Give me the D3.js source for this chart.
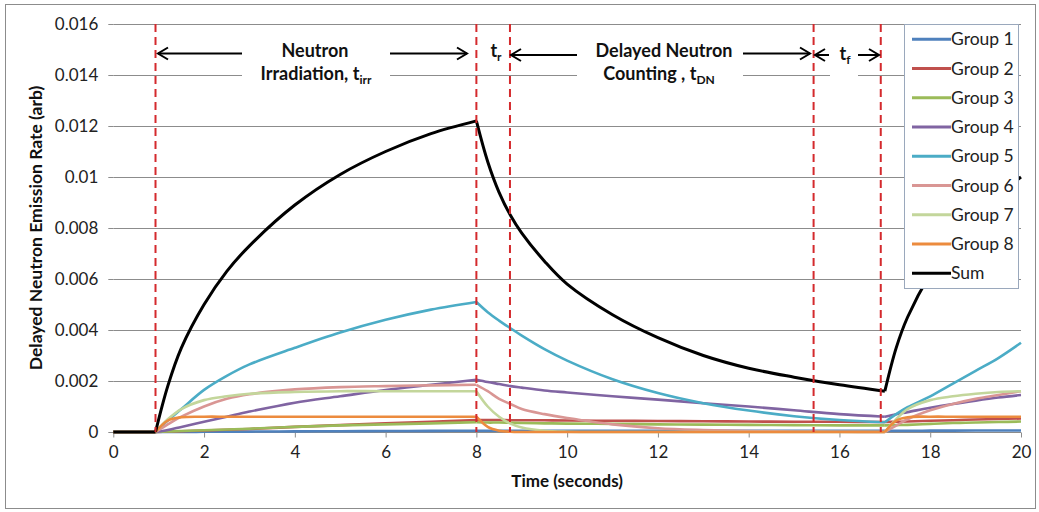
<!DOCTYPE html>
<html>
<head>
<meta charset="utf-8">
<script src="https://cdn.jsdelivr.net/npm/d3@7"></script>
<style>
  body { margin: 0; background: #fff; }
  text { font-family: Lato, "Open Sans", sans-serif; }
</style>
</head>
<body>
<div id="chart"></div>
<script>

// time samples (seconds) shared by all series
const times = [0, 0.93, 1.2, 1.5, 2, 2.5, 3, 4, 5, 6, 7, 8,
  8.25, 8.5, 8.75, 9, 9.5, 10, 11, 12, 13, 14, 15, 16, 17,
  17.25, 17.5, 18, 18.5, 19, 19.5, 20];

const group1 = [0, 0, 0.000002, 0.000004, 0.000008, 0.000012, 0.000016, 0.000024, 0.000031, 0.000038, 0.000044, 0.00005,
  0.00005, 0.00005, 0.00005, 0.00005, 0.00005, 0.00005, 0.00005, 0.00005, 0.00005, 0.00005, 0.00005, 0.00005, 0.00005,
  0.00005, 0.00005, 0.000052, 0.000054, 0.000056, 0.000058, 0.00006];
const group2 = [0, 0, 0.00002, 0.00003, 0.00006, 0.00009, 0.00012, 0.0002, 0.00027, 0.00034, 0.0004, 0.00047,
  0.00047, 0.00047, 0.00046, 0.00046, 0.00046, 0.00045, 0.00044, 0.00043, 0.00042, 0.00041, 0.0004, 0.0004, 0.00039,
  0.0004, 0.00041, 0.00044, 0.00046, 0.00049, 0.00051, 0.00053];
const group3 = [0, 0, 0.00002, 0.00004, 0.00007, 0.0001, 0.00013, 0.0002, 0.00026, 0.0003, 0.00034, 0.00038,
  0.00037, 0.00037, 0.00036, 0.00035, 0.00034, 0.00033, 0.00032, 0.0003, 0.00029, 0.00028, 0.00027, 0.00026, 0.00026,
  0.00027, 0.00028, 0.00032, 0.00035, 0.00037, 0.00039, 0.00041];
const group4 = [0, 0, 0.00008, 0.0002, 0.0004, 0.0006, 0.0008, 0.00115, 0.0014, 0.00165, 0.00185, 0.00205,
  0.00196, 0.00188, 0.0018, 0.00174, 0.00163, 0.00155, 0.0014, 0.00127, 0.00113, 0.001, 0.00085, 0.0007, 0.0006,
  0.0007, 0.00078, 0.00095, 0.0011, 0.00123, 0.00135, 0.00145];
const group5 = [0, 0, 0.00045, 0.0009, 0.00165, 0.0022, 0.00265, 0.0033, 0.0039, 0.0044, 0.0048, 0.0051,
  0.0047, 0.00437, 0.00407, 0.00378, 0.00325, 0.0028, 0.00207, 0.00153, 0.00113, 0.00084, 0.00062, 0.00047, 0.00038,
  0.0007, 0.00097, 0.0014, 0.0019, 0.0024, 0.0029, 0.0035];
const group6 = [0, 0, 0.0003, 0.0006, 0.001, 0.0013, 0.00148, 0.00167, 0.00176, 0.0018, 0.00183, 0.00185,
  0.0016, 0.0013, 0.0011, 0.0009, 0.0007, 0.00055, 0.0003, 0.00015, 0.00008, 0.00004, 0.00002, 0.00001, 0,
  0.00025, 0.0005, 0.00085, 0.0011, 0.0013, 0.00145, 0.0016];
const group7 = [0, 0, 0.0005, 0.0009, 0.00125, 0.0014, 0.0015, 0.00157, 0.0016, 0.0016, 0.0016, 0.0016,
  0.001, 0.0006, 0.00033, 0.00018, 0.00005, 0.00001, 0, 0, 0, 0, 0, 0, 0,
  0.0005, 0.0009, 0.00125, 0.0014, 0.0015, 0.00157, 0.0016];
const group8 = [0, 0, 0.00045, 0.00058, 0.0006, 0.0006, 0.0006, 0.0006, 0.0006, 0.0006, 0.0006, 0.0006,
  0.0002, 0.00005, 0.00001, 0, 0, 0, 0, 0, 0, 0, 0, 0, 0,
  0.00045, 0.00058, 0.0006, 0.0006, 0.0006, 0.0006, 0.0006];
const sum = [0, 0, 0.0018, 0.0033, 0.005, 0.0063, 0.0073, 0.0089, 0.0101, 0.011, 0.0117, 0.0122,
  0.0106, 0.0094, 0.0085, 0.0078, 0.0067, 0.0058, 0.0046, 0.0037, 0.003, 0.0025, 0.00215, 0.00185, 0.0016,
  0.0033, 0.0045, 0.0062, 0.0075, 0.0085, 0.0093, 0.01];

const seriesNames = ["Group 1", "Group 2", "Group 3", "Group 4", "Group 5", "Group 6", "Group 7", "Group 8", "Sum"];
const seriesValues = [group1, group2, group3, group4, group5, group6, group7, group8, sum];
const seriesColors = ["#4f81bd", "#c0504d", "#9bbb59", "#8064a2", "#4bacc6", "#d99694", "#c3d69b", "#ec8b3e", "#000000"];

// corners in the curves (start of irradiation, end, restart)
const phaseBreaks = [0.93, 8, 17];

// dashed markers
const markerTimes = [0.93, 8, 8.74, 15.43, 16.91];

const xTicks = [0, 2, 4, 6, 8, 10, 12, 14, 16, 18, 20];
const yTicks = [0, 0.002, 0.004, 0.006, 0.008, 0.01, 0.012, 0.014, 0.016];
const yTickLabels = ["0", "0.002", "0.004", "0.006", "0.008", "0.01", "0.012", "0.014", "0.016"];

const width = 1039, height = 512;

const svg = d3.select("#chart").append("svg")
  .attr("width", width)
  .attr("height", height);

// outer frame
svg.append("rect")
  .attr("x", 5.5).attr("y", 4.5)
  .attr("width", 1030).attr("height", 504)
  .attr("fill", "#fff")
  .attr("stroke", "#8c8c8c");

const x = d3.scaleLinear().domain([0, 20]).range([113.3, 1021]);
const y = d3.scaleLinear().domain([0, 0.016]).range([432, 24]);

// gridlines
svg.append("g")
  .selectAll("line")
  .data(yTicks)
  .join("line")
    .attr("x1", x(0)).attr("x2", x(20))
    .attr("y1", d => Math.round(y(d)) + 0.5)
    .attr("y2", d => Math.round(y(d)) + 0.5)
    .attr("stroke", "#8c8c8c");

// axes
const xAxis = svg.append("g")
  .attr("transform", `translate(0,${Math.round(y(0)) + 0.5})`)
  .call(d3.axisBottom(x).tickValues(xTicks).tickSize(5).tickPadding(8).tickFormat(d3.format("d")));
xAxis.select(".domain").remove();
xAxis.selectAll(".tick line").attr("stroke", "#8c8c8c");
xAxis.selectAll(".tick text")
  .attr("font-family", "Lato, sans-serif")
  .attr("font-size", 17)
  .attr("fill", "#222");

const yAxis = svg.append("g")
  .attr("transform", `translate(${x(0)},0)`)
  .call(d3.axisLeft(y).tickValues(yTicks).tickSize(5).tickPadding(10)
    .tickFormat((d, i) => yTickLabels[i]));
yAxis.select(".domain").remove();
yAxis.selectAll(".tick line").attr("stroke", "#8c8c8c");
yAxis.selectAll(".tick text")
  .attr("font-family", "Lato, sans-serif")
  .attr("font-size", 17)
  .attr("fill", "#222");

// white text boxes that hide the 0.014 gridline
const boxes = [[242, 390], [577, 743], [830, 858]];
svg.append("g")
  .selectAll("rect")
  .data(boxes)
  .join("rect")
    .attr("x", d => d[0])
    .attr("width", d => d[1] - d[0])
    .attr("y", 36).attr("height", 56)
    .attr("fill", "#fff");

// series lines, one path per phase so the corners stay sharp
const line = d3.line()
  .x(d => x(d[0]))
  .y(d => y(Math.max(0, d[1])))
  .curve(d3.curveCatmullRom.alpha(0.5));

const edges = [0].concat(phaseBreaks, [20]);

seriesValues.forEach((vals, si) => {
  const pts = times.map((t, i) => [t, vals[i]]);
  for (let k = 0; k < edges.length - 1; k++) {
    const seg = pts.filter(p => p[0] >= edges[k] && p[0] <= edges[k + 1]);
    svg.append("path")
      .datum(seg)
      .attr("d", line)
      .attr("fill", "none")
      .attr("stroke", seriesColors[si])
      .attr("stroke-width", si == 8 ? 3 : 2.6)
      .attr("stroke-linejoin", "round");
  }
});

// dashed red markers
svg.append("g")
  .selectAll("line")
  .data(markerTimes)
  .join("line")
    .attr("x1", d => x(d)).attr("x2", d => x(d))
    .attr("y1", y(0.016)).attr("y2", y(0))
    .attr("stroke", "#d42a2d")
    .attr("stroke-width", 2)
    .attr("stroke-dasharray", "8,5");

// arrows: [from, to, y]
const arrows = [[242, 158, 53.5], [390, 467, 53.5], [577, 511, 55], [743, 810, 53.5], [829, 815, 55], [858, 879, 55]];

const arrowG = svg.append("g")
  .attr("stroke", "#000")
  .attr("stroke-width", 2)
  .attr("fill", "none");

arrows.forEach(a => {
  const dir = a[1] > a[0] ? 1 : -1;
  arrowG.append("line")
    .attr("x1", a[0]).attr("x2", a[1])
    .attr("y1", a[2]).attr("y2", a[2]);
  arrowG.append("path")
    .attr("d", `M${a[1] - dir * 10},${a[2] - 6} L${a[1]},${a[2]} L${a[1] - dir * 10},${a[2] + 6}`);
});

// annotation text
const notes = svg.append("g")
  .attr("font-weight", "bold")
  .attr("font-size", 18)
  .attr("fill", "#111")
  .attr("text-anchor", "middle");

notes.append("text").attr("x", 315).attr("y", 57).text("Neutron");
const irr = notes.append("text").attr("x", 316).attr("y", 80);
irr.append("tspan").text("Irradiation, t");
irr.append("tspan").attr("font-size", 12).attr("dy", 4).text("irr");

const tr = notes.append("text").attr("x", 496).attr("y", 57);
tr.append("tspan").text("t");
tr.append("tspan").attr("font-size", 12).attr("dy", 4).text("r");

notes.append("text").attr("x", 664).attr("y", 57).text("Delayed Neutron");
const dn = notes.append("text").attr("x", 659).attr("y", 80);
dn.append("tspan").text("Counting , t");
dn.append("tspan").attr("font-size", 12).attr("dy", 4).text("DN");

const tf = notes.append("text").attr("x", 845).attr("y", 60);
tf.append("tspan").text("t");
tf.append("tspan").attr("font-size", 12).attr("dy", 4).text("f");

// axis titles
svg.append("text")
  .attr("transform", `translate(42,${(y(0) + y(0.016)) / 2}) rotate(-90)`)
  .attr("text-anchor", "middle")
  .attr("font-weight", "bold")
  .attr("font-size", 17.5)
  .attr("fill", "#111")
  .text("Delayed Neutron Emission Rate (arb)");

svg.append("text")
  .attr("x", (x(0) + x(20)) / 2)
  .attr("y", 487)
  .attr("text-anchor", "middle")
  .attr("font-weight", "bold")
  .attr("font-size", 17)
  .attr("fill", "#111")
  .text("Time (seconds)");

// legend
const legend = svg.append("g");
legend.append("rect")
  .attr("x", 904.5).attr("y", 24.5)
  .attr("width", 114).attr("height", 264)
  .attr("fill", "#fff")
  .attr("stroke", "#9aa8bc");

const rows = legend.selectAll("g.row")
  .data(seriesNames)
  .join("g")
    .attr("class", "row")
    .attr("transform", (d, i) => `translate(912,${39.3 + i * 29.25})`);

rows.append("line")
  .attr("x1", 0).attr("x2", 39)
  .attr("stroke", (d, i) => seriesColors[i])
  .attr("stroke-width", 3);

rows.append("text")
  .attr("x", 39)
  .attr("dy", "0.35em")
  .attr("font-size", 17.5)
  .attr("fill", "#222")
  .text(d => d);

</script>
</body>
</html>
